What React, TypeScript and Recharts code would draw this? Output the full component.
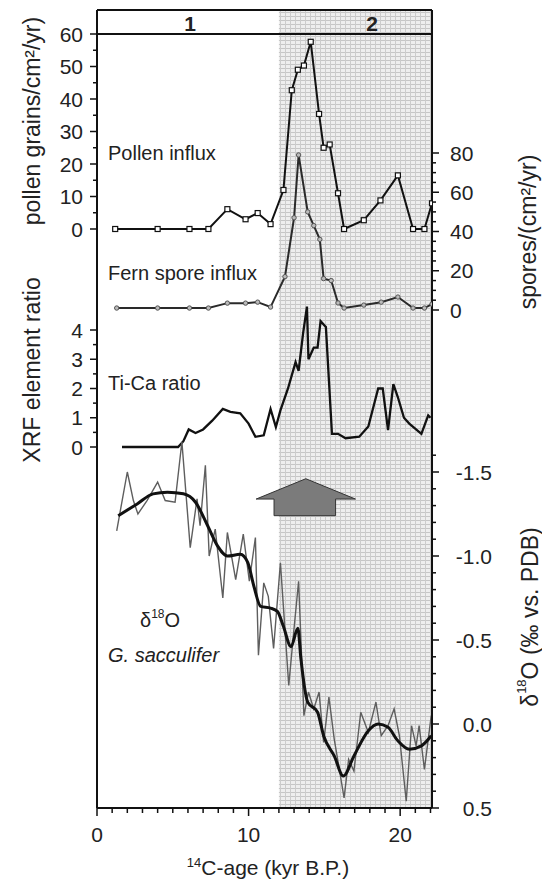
import React from 'react';
import { ComposedChart, Line, XAxis, YAxis, ReferenceArea, ReferenceLine } from 'recharts';

const W = 542;
const H = 883;
// plot frame in page pixels (used only to line the four y scales up with each other)
const PLOT = { left: 97, right: 432, top: 10, bottom: 808 };
const FONT = '"Liberation Sans", Arial, Helvetica, sans-serif';
const AXIS_W = 0.01; // y axes share one line, so they take (almost) no room

// ---- data ----
const AGE_MAX = 22.1;
const AGE_TICKS = [0, 1, 2, 3, 4, 5, 6, 7, 8, 9, 10, 11, 12, 13, 14, 15, 16, 17, 18, 19, 20, 21, 22];
const AGE_LABELS = [0, 10, 20];

const POLLEN_AGE = [1.2, 4.0, 6.1, 7.35, 8.6, 9.8, 10.6, 11.45, 12.3, 12.85, 13.25, 13.65, 14.1, 14.65, 14.95, 15.35, 15.9, 16.3, 17.6, 18.7, 19.85, 20.85, 21.6, 22.1];
const POLLEN_VAL = [0, 0, 0, 0, 6.1, 3, 4.9, 1.5, 12, 42.7, 49, 50.3, 57.6, 35.4, 25, 26, 11, 0, 2.7, 8.8, 16.5, 0, 0, 7.9];

const FERN_AGE = [1.3, 4.0, 6.1, 7.35, 8.6, 9.8, 10.6, 11.45, 12.4, 13.0, 13.3, 13.9, 14.3, 14.7, 14.95, 15.45, 15.9, 16.3, 17.6, 18.75, 19.85, 20.85, 21.6, 22.1];
const FERN_VAL = [1, 1, 1, 1, 3.5, 3.5, 4, 1.5, 17, 47, 79, 50, 43, 36, 16, 15, 3.6, 1, 2.5, 4, 6.6, 1, 1, 3];

const TICA_AGE = [1.65, 5.35, 5.7, 6.05, 6.5, 7.0, 7.6, 8.3, 8.8, 9.45, 10.0, 10.45, 11.0, 11.45, 11.8, 12.1, 12.6, 13.1, 13.3, 13.6, 13.85, 13.95, 14.3, 14.55, 14.75, 15.1, 15.5, 15.9, 16.4, 17.3, 17.9, 18.55, 18.85, 19.2, 19.55, 19.85, 20.25, 20.6, 21.4, 21.85, 22.0];
const TICA_VAL = [0, 0, 0.2, 0.6, 0.48, 0.6, 0.9, 1.3, 1.2, 1.15, 0.8, 0.35, 0.4, 1.3, 0.68, 1.25, 2.0, 2.9, 2.6, 3.9, 4.8, 3.0, 3.4, 3.4, 4.3, 4.1, 0.45, 0.45, 0.3, 0.35, 0.7, 2.0, 2.0, 0.58, 2.15, 1.7, 1.0, 0.8, 0.45, 1.08, 1.0];

const D18O_RAW_AGE = [1.3, 2.0, 2.4, 2.7, 3.3, 4.0, 4.5, 5.15, 5.6, 6.15, 6.6, 6.8, 7.15, 7.4, 7.8, 8.3, 8.6, 9.15, 9.65, 10.05, 10.45, 10.65, 11.0, 11.3, 11.65, 12.1, 12.65, 13.0, 13.3, 13.65, 13.95, 14.3, 14.65, 14.95, 15.3, 15.65, 15.95, 16.3, 16.6, 16.95, 17.4, 17.9, 18.4, 18.75, 19.2, 19.6, 19.95, 20.4, 20.75, 21.05, 21.25, 21.6, 22.05];
const D18O_RAW_VAL = [-1.15, -1.5, -1.33, -1.25, -1.33, -1.44, -1.33, -1.32, -1.68, -1.05, -1.34, -1.18, -1.54, -1.0, -1.16, -0.75, -1.14, -0.86, -1.13, -0.85, -1.11, -0.41, -0.84, -0.76, -0.45, -0.96, -0.23, -0.57, -0.85, -0.05, -0.19, -0.09, -0.19, 0.11, -0.16, 0.09, 0.25, 0.44, 0.21, 0.28, -0.07, 0.05, -0.13, 0.07, 0.01, -0.09, 0.07, 0.46, 0.01, 0.13, 0.01, 0.27, -0.05];

const D18O_SMOOTH_AGE = [1.4, 2.65, 3.7, 4.65, 5.7, 6.5, 7.3, 7.95, 8.6, 9.45, 9.95, 10.35, 10.8, 11.45, 11.9, 12.3, 12.8, 13.25, 13.45, 13.9, 14.55, 14.95, 15.65, 16.25, 16.95, 17.9, 18.55, 19.2, 19.85, 20.6, 21.4, 22.05];
const D18O_SMOOTH_VAL = [-1.24, -1.31, -1.37, -1.38, -1.37, -1.32, -1.18, -1.06, -1.0, -1.01, -0.96, -0.82, -0.7, -0.69, -0.67, -0.58, -0.46, -0.57, -0.39, -0.13, -0.07, 0.07, 0.19, 0.31, 0.19, 0.04, 0.0, 0.02, 0.1, 0.15, 0.13, 0.07];

const POLLEN_TICKS = [0, 5, 10, 15, 20, 25, 30, 35, 40, 45, 50, 55, 60];
const XRF_TICKS = [0, 0.5, 1, 1.5, 2, 2.5, 3, 3.5, 4];
const SPORE_TICKS = [0, 5, 10, 15, 20, 25, 30, 35, 40, 45, 50, 55, 60, 65, 70, 75, 80];
const D18O_TICKS = [-1.6, -1.5, -1.4, -1.3, -1.2, -1.1, -1.0, -0.9, -0.8, -0.7, -0.6, -0.5, -0.4, -0.3, -0.2, -0.1, 0.0, 0.1, 0.2, 0.3, 0.4, 0.5];

const SHADE_FROM = 12;

const toRows = (ages: number[], vals: number[]) => ages.map((age, i) => ({ age, v: vals[i] }));

// value range of an axis, given two reference ticks and where they sit on the page
function domainFrom(v1: number, p1: number, v2: number, p2: number): [number, number] {
  const k = (v2 - v1) / (p2 - p1);
  const a = v1 + (PLOT.top - p1) * k;
  const b = v1 + (PLOT.bottom - p1) * k;
  return [Math.min(a, b), Math.max(a, b)];
}

const POLLEN_DOMAIN = domainFrom(60, 34, 0, 229);
const XRF_DOMAIN = domainFrom(4, 330, 0, 447);
const SPORE_DOMAIN = domainFrom(80, 153, 0, 310);
const D18O_DOMAIN = domainFrom(-1.5, 472, 0.5, 808);

const near = (v: number, step: number) => Math.abs(v / step - Math.round(v / step)) < 1e-6;

const leftTick = (step: number) => (p: any) => {
  const { x, y, payload } = p;
  const v = payload.value;
  const major = near(v, step);
  return (
    <g>
      <line x1={x - (major ? 7 : 4)} x2={x} y1={y} y2={y} stroke="#111" strokeWidth={1.5} />
      {major && (
        <text x={x - 14} y={y} dy="0.36em" textAnchor="end" fontSize={21} fontFamily={FONT} fill="#222">
          {String(v)}
        </text>
      )}
    </g>
  );
};

const sporeTick = (p: any) => {
  const { x, y, payload } = p;
  const v = payload.value;
  const major = near(v, 20);
  return (
    <g>
      <line x1={x} x2={x + (major ? 7 : 4)} y1={y} y2={y} stroke="#111" strokeWidth={1.5} />
      {major && (
        <text x={x + 18} y={y} dy="0.36em" textAnchor="start" fontSize={21} fontFamily={FONT} fill="#222">
          {String(v)}
        </text>
      )}
    </g>
  );
};

const d18oTick = (p: any) => {
  const { x, y, payload } = p;
  const v = payload.value;
  const major = near(v, 0.5);
  return (
    <g>
      <line x1={x} x2={x + (major ? 7 : 4)} y1={y} y2={y} stroke="#111" strokeWidth={1.5} />
      {major && (
        <text x={x + 60} y={y} dy="0.36em" textAnchor="end" fontSize={21} fontFamily={FONT} fill="#222">
          {v.toFixed(1)}
        </text>
      )}
    </g>
  );
};

const ageTick = (p: any) => {
  const { x, y, payload } = p;
  const v = payload.value;
  const major = AGE_LABELS.includes(v);
  return (
    <g>
      <line x1={x} x2={x} y1={y} y2={y + (major ? 8 : 5)} stroke="#111" strokeWidth={1.5} />
      {major && (
        <text x={x} y={y + 34} textAnchor="middle" fontSize={21} fontFamily={FONT} fill="#222">
          {String(v)}
        </text>
      )}
    </g>
  );
};

const squareDot = (p: any) => {
  const { cx, cy, index } = p;
  if (cx == null || cy == null) return <g key={index} />;
  return <rect key={index} x={cx - 2.5} y={cy - 2.5} width={5} height={5} fill="#fff" stroke="#111" strokeWidth={1.2} />;
};

const smallDot = (p: any) => {
  const { cx, cy, index } = p;
  if (cx == null || cy == null) return <g key={index} />;
  return <circle key={index} cx={cx} cy={cy} r={2.2} fill="#bbb" stroke="#555" strokeWidth={1} />;
};

const UpArrow = (p: any) => {
  const { x, y, width: w, height: h } = p;
  const hb = y + 0.55 * h;
  const pts = [
    [x + w / 2, y],
    [x + w, hb],
    [x + 0.8 * w, hb],
    [x + 0.8 * w, y + h],
    [x + 0.18 * w, y + h],
    [x + 0.18 * w, hb],
    [x, hb],
  ]
    .map((q) => q.join(','))
    .join(' ');
  return <polygon points={pts} fill="#7b7b7b" stroke="#333" strokeWidth={1} />;
};

const axisLine = { stroke: '#111', strokeWidth: 2 };

export default function App() {
  return (
    <div style={{ position: 'absolute', left: 0, top: 0, width: W, height: H, background: '#fff' }}>
      <svg width={0} height={0} style={{ position: 'absolute' }}>
        <defs>
          <pattern id="screen" width={5} height={4} patternUnits="userSpaceOnUse">
            <rect width={5} height={4} fill="#eeeeee" />
            <rect width={5} height={1} fill="#c6c6c6" />
            <rect width={1} height={4} fill="#cccccc" />
          </pattern>
        </defs>
      </svg>

      <ComposedChart
        width={W}
        height={H}
        margin={{
          top: PLOT.top,
          right: W - PLOT.right - 2 * AXIS_W,
          bottom: H - PLOT.bottom - 40,
          left: PLOT.left - 2 * AXIS_W,
        }}
      >
        <XAxis
          dataKey="age"
          type="number"
          domain={[0, AGE_MAX]}
          ticks={AGE_TICKS}
          interval={0}
          height={40}
          allowDataOverflow
          tickSize={0}
          tickMargin={0}
          tickLine={false}
          axisLine={axisLine}
          tick={ageTick}
        />
        <YAxis
          yAxisId="pollen"
          orientation="left"
          width={AXIS_W}
          domain={POLLEN_DOMAIN}
          ticks={POLLEN_TICKS}
          interval={0}
          allowDataOverflow
          tickSize={0}
          tickMargin={0}
          tickLine={false}
          axisLine={axisLine}
          tick={leftTick(10)}
        />
        <YAxis
          yAxisId="xrf"
          orientation="left"
          width={AXIS_W}
          domain={XRF_DOMAIN}
          ticks={XRF_TICKS}
          interval={0}
          allowDataOverflow
          tickSize={0}
          tickMargin={0}
          tickLine={false}
          axisLine={false}
          tick={leftTick(1)}
        />
        <YAxis
          yAxisId="spore"
          orientation="right"
          width={AXIS_W}
          domain={SPORE_DOMAIN}
          ticks={SPORE_TICKS}
          interval={0}
          allowDataOverflow
          tickSize={0}
          tickMargin={0}
          tickLine={false}
          axisLine={axisLine}
          tick={sporeTick}
        />
        <YAxis
          yAxisId="d18o"
          orientation="right"
          width={AXIS_W}
          reversed
          domain={D18O_DOMAIN}
          ticks={D18O_TICKS}
          interval={0}
          allowDataOverflow
          tickSize={0}
          tickMargin={0}
          tickLine={false}
          axisLine={false}
          tick={d18oTick}
        />

        {/* shaded interval 2 */}
        <ReferenceArea yAxisId="pollen" x1={SHADE_FROM} x2={AGE_MAX} fill="url(#screen)" fillOpacity={1} stroke="none" ifOverflow="visible" />

        {/* zone band at the top */}
        <ReferenceLine yAxisId="pollen" y={60} stroke="#111" strokeWidth={2.2} ifOverflow="visible" />
        <ReferenceLine yAxisId="pollen" y={POLLEN_DOMAIN[1]} stroke="#111" strokeWidth={2} ifOverflow="visible" />

        <ReferenceArea
          yAxisId="d18o"
          x1={10.5}
          x2={17.05}
          y1={-1.46}
          y2={-1.24}
          ifOverflow="visible"
          shape={UpArrow}
        />

        <Line
          yAxisId="pollen"
          data={toRows(POLLEN_AGE, POLLEN_VAL)}
          dataKey="v"
          type="linear"
          stroke="#111"
          strokeWidth={2}
          dot={squareDot}
          activeDot={false}
          isAnimationActive={false}
        />
        <Line
          yAxisId="spore"
          data={toRows(FERN_AGE, FERN_VAL)}
          dataKey="v"
          type="linear"
          stroke="#2a2a2a"
          strokeWidth={2}
          dot={smallDot}
          activeDot={false}
          isAnimationActive={false}
        />
        <Line
          yAxisId="xrf"
          data={toRows(TICA_AGE, TICA_VAL)}
          dataKey="v"
          type="linear"
          stroke="#111"
          strokeWidth={2.3}
          dot={false}
          activeDot={false}
          isAnimationActive={false}
        />
        <Line
          yAxisId="d18o"
          data={toRows(D18O_RAW_AGE, D18O_RAW_VAL)}
          dataKey="v"
          type="linear"
          stroke="#5e5e5e"
          strokeWidth={1.4}
          dot={false}
          activeDot={false}
          isAnimationActive={false}
        />
        <Line
          yAxisId="d18o"
          data={toRows(D18O_SMOOTH_AGE, D18O_SMOOTH_VAL)}
          dataKey="v"
          type="monotone"
          stroke="#111"
          strokeWidth={3}
          dot={false}
          activeDot={false}
          isAnimationActive={false}
        />
      </ComposedChart>

      <svg
        width={W}
        height={H}
        style={{ position: 'absolute', left: 0, top: 0, pointerEvents: 'none' }}
        fontFamily={FONT}
        fill="#222"
      >
        <text x={190} y={31} textAnchor="middle" fontSize={21} fontWeight="bold">1</text>
        <text x={372} y={31} textAnchor="middle" fontSize={21} fontWeight="bold">2</text>

        <text x={108} y={160} fontSize={20}>Pollen influx</text>
        <text x={108} y={280} fontSize={20}>Fern spore influx</text>
        <text x={108} y={390} fontSize={20}>Ti-Ca ratio</text>
        <text x={140} y={627} fontSize={20}>
          δ<tspan fontSize={12} dy={-9}>18</tspan>
          <tspan dy={9}>O</tspan>
        </text>
        <text x={108} y={662} fontSize={20} fontStyle="italic">G. sacculifer</text>

        <text transform="translate(32,121) rotate(-90)" textAnchor="middle" dominantBaseline="central" fontSize={23}>
          pollen grains/cm²/yr)
        </text>
        <text transform="translate(32,370) rotate(-90)" textAnchor="middle" dominantBaseline="central" fontSize={23}>
          XRF element ratio
        </text>
        <text transform="translate(528,232) rotate(-90)" textAnchor="middle" dominantBaseline="central" fontSize={23}>
          spores/(cm²/yr)
        </text>
        <text transform="translate(530,617) rotate(-90)" textAnchor="middle" dominantBaseline="central" fontSize={23}>
          δ<tspan fontSize={13} dy={-9}>18</tspan>
          <tspan dy={9}>O (‰ vs. PDB)</tspan>
        </text>

        <text x={268} y={875} textAnchor="middle" fontSize={21}>
          <tspan fontSize={13} dy={-8}>14</tspan>
          <tspan dy={8}>C-age (kyr B.P.)</tspan>
        </text>
      </svg>
    </div>
  );
}
